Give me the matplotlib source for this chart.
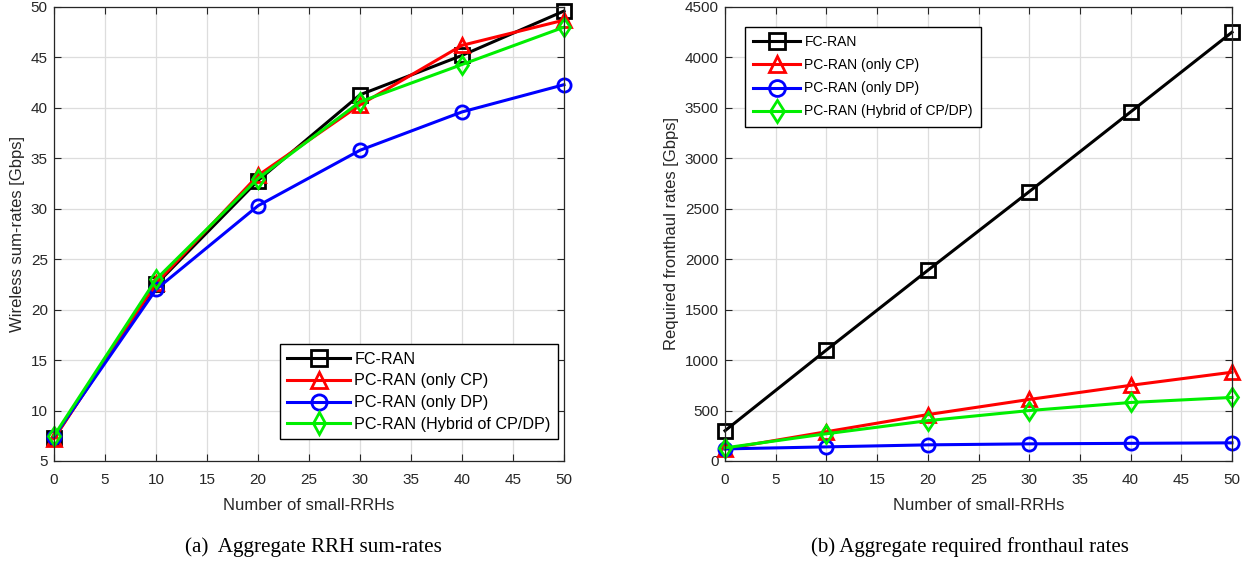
import matplotlib
matplotlib.use("Agg")
import matplotlib.pyplot as plt

plt.rcParams['font.family'] = ['Liberation Sans', 'DejaVu Sans']

# data
rrhs = [0, 10, 20, 30, 40, 50]
labels = ['FC-RAN', 'PC-RAN (only CP)', 'PC-RAN (only DP)', 'PC-RAN (Hybrid of CP/DP)']

sum_fc = [7.3, 22.5, 32.8, 41.3, 45.2, 49.6]
sum_cp = [7.2, 22.6, 33.3, 40.3, 46.2, 48.7]
sum_dp = [7.4, 22.0, 30.3, 35.8, 39.6, 42.3]
sum_hy = [7.5, 23.0, 33.0, 40.6, 44.3, 48.0]

fh_fc = [300, 1100, 1890, 2670, 3460, 4250]
fh_cp = [120, 290, 460, 610, 750, 880]
fh_dp = [120, 140, 160, 170, 175, 180]
fh_hy = [130, 270, 400, 500, 580, 630]

colors = ['black', 'red', 'blue', '#00ee00']
markers = ['s', '^', 'o', 'd']

fig = plt.figure(figsize=[12.48, 5.62], dpi=100)
ax1 = fig.add_axes([54/1248, 1-461/562, 510/1248, 454/562])
ax2 = fig.add_axes([725/1248, 1-461/562, 507/1248, 454/562])


def style(ax):
    ax.grid(True, color='#dddddd', linewidth=0.9)
    ax.set_axisbelow(True)
    ax.tick_params(direction='in', top=True, right=True, labelsize=11,
                   length=5, colors='#262626', labelcolor='#262626')
    ax.tick_params(axis='x', pad=8.5)
    ax.tick_params(axis='y', pad=4.5)
    for s in ax.spines.values():
        s.set_color('#262626')
        s.set_linewidth(0.9)
    ax.set_xlim(0, 50)
    ax.set_xticks(range(0, 51, 5))
    ax.set_xlabel('Number of small-RRHs', fontsize=12, color='#262626', labelpad=8)


for ys, c, m, lab in zip([sum_fc, sum_cp, sum_dp, sum_hy], colors, markers, labels):
    ax1.plot(rrhs, ys, color=c, marker=m, markersize=9.5, markerfacecolor='none',
             markeredgewidth=2, linewidth=2.2, label=lab, clip_on=False)
style(ax1)
ax1.set_ylim(5, 50)
ax1.set_yticks(range(5, 51, 5))
ax1.set_ylabel('Wireless sum-rates [Gbps]', fontsize=12, color='#262626')
ax1.legend(loc='lower right', bbox_to_anchor=(0.988, 0.048), fontsize=11.6,
           fancybox=False, edgecolor='black', framealpha=1, borderaxespad=0,
           handlelength=3.9, labelspacing=0.42, handletextpad=0.25,
           borderpad=0.45, markerscale=1.15)

for ys, c, m, lab in zip([fh_fc, fh_cp, fh_dp, fh_hy], colors, markers, labels):
    ax2.plot(rrhs, ys, color=c, marker=m, markersize=9.5, markerfacecolor='none',
             markeredgewidth=2, linewidth=2.2, label=lab, clip_on=False)
style(ax2)
ax2.set_ylim(0, 4500)
ax2.set_yticks(range(0, 4501, 500))
ax2.set_ylabel('Required fronthaul rates [Gbps]', fontsize=12, color='#262626')
ax2.legend(loc='upper left', bbox_to_anchor=(0.039, 0.956), fontsize=10,
           fancybox=False, edgecolor='black', framealpha=1, borderaxespad=0,
           handlelength=3.4, labelspacing=0.65, handletextpad=0.3,
           borderpad=0.6, markerscale=1.2)

fig.text(313/1248, 1-547/562, '(a)  Aggregate RRH sum-rates', ha='center', va='center',
         fontsize=15.2, family='Liberation Serif')
fig.text(970/1248, 1-547/562, '(b) Aggregate required fronthaul rates', ha='center', va='center',
         fontsize=15, family='Liberation Serif')

plt.savefig('out.png', dpi=100)
